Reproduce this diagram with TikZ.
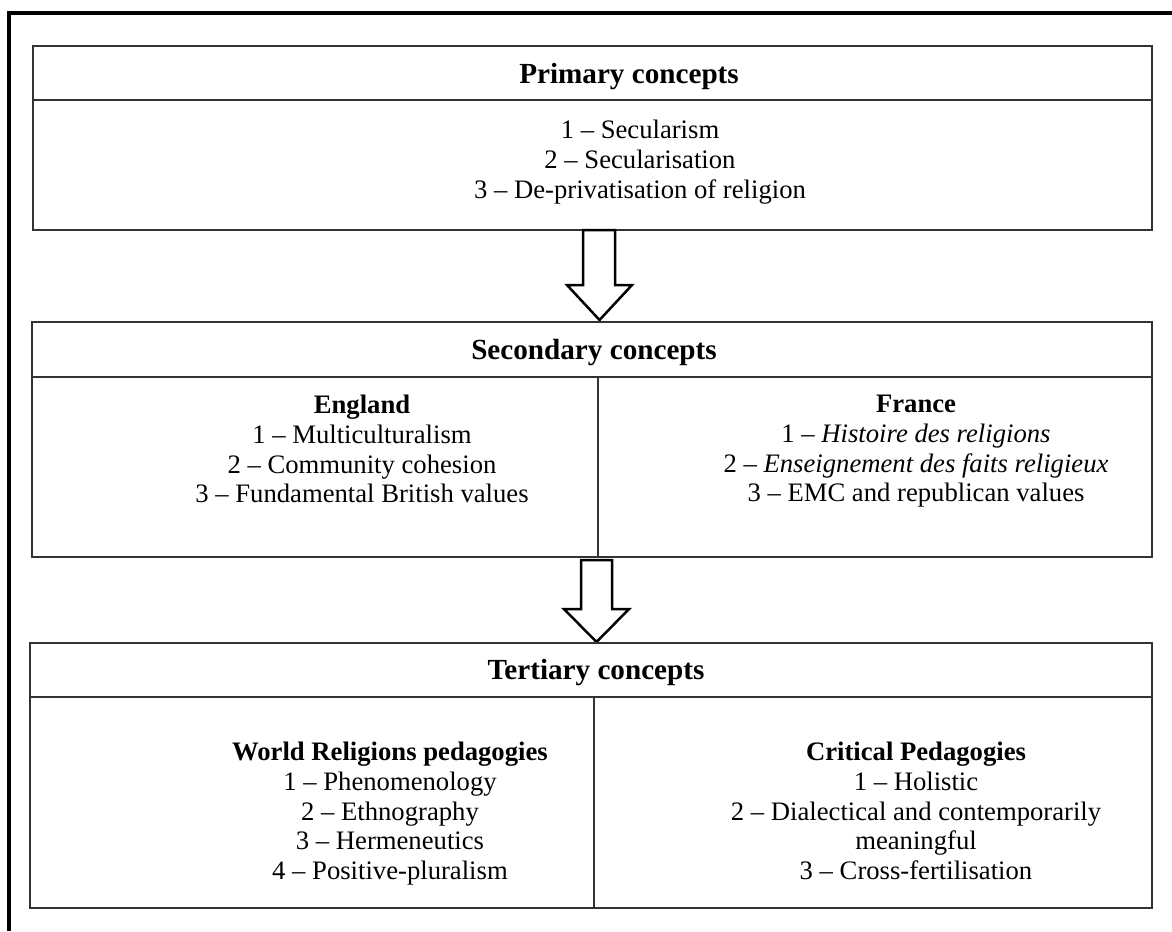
\documentclass[tikz,border=0pt]{standalone}
\usepackage{fontspec}
\setmainfont{Liberation Serif}
\tikzset{
  frame/.style={line width=1.45pt, black},
  box/.style={line width=0.75pt, black!80},
  blockarrow/.style={line width=1.2pt, black, fill=white, line join=miter},
  title/.style={font=\fontsize{14}{16}\selectfont\bfseries, inner sep=0pt},
  items/.style={align=center, inner sep=0pt, anchor=north},
}
\begin{document}
\begin{tikzpicture}[x=0.48pt, y=-0.48pt, font=\fontsize{12.8}{14.2}\selectfont]
\useasboundingbox (0,0) rectangle (1172,931);
\draw[frame] (9,931) -- (9,13) -- (1172,13);

% primary concepts
\coordinate (P1) at (33,46);
\coordinate (P2) at (1152,230);
\draw[box] (P1) rectangle (P2);
\draw[box] (33,100) -- (1152,100);
\node[title] (primary) at (629,77) {Primary concepts};
\node[items] (primarylist) at (640,120)
  {1 -- Secularism\\ 2 -- Secularisation\\ 3 -- De-privatisation of religion};

\draw[blockarrow] (583,230) -- (583,285) -- (567,285) -- (599.5,320)
  -- (632,285) -- (615,285) -- (615,230) -- cycle;

% secondary concepts
\coordinate (S1) at (32,322);
\coordinate (S2) at (1152,557);
\draw[box] (S1) rectangle (S2);
\draw[box] (32,377) -- (1152,377);
\draw[box] (598,377) -- (598,557);
\node[title] (secondary) at (594,353) {Secondary concepts};
\node[items] (england) at (362,395)
  {\textbf{England}\\ 1 -- Multiculturalism\\ 2 -- Community cohesion\\ 3 -- Fundamental British values};
\node[items] (france) at (916,395)
  {\textbf{France}\\ 1 -- \textit{Histoire des religions}\\ 2 -- \textit{Enseignement des faits religieux}\\ 3 -- EMC and republican values};

\draw[blockarrow] (581,560) -- (581,609) -- (564,609) -- (596.5,642)
  -- (629,609) -- (612,609) -- (612,560) -- cycle;

% tertiary concepts
\coordinate (T1) at (30,643);
\coordinate (T2) at (1152,908);
\draw[box] (T1) rectangle (T2);
\draw[box] (30,697) -- (1152,697);
\draw[box] (594,697) -- (594,908);
\node[title] (tertiary) at (596,673) {Tertiary concepts};
\node[items] (worldrel) at (390,742)
  {\textbf{World Religions pedagogies}\\ 1 -- Phenomenology\\ 2 -- Ethnography\\ 3 -- Hermeneutics\\ 4 -- Positive-pluralism};
\node[items] (critical) at (916,742)
  {\textbf{Critical Pedagogies}\\ 1 -- Holistic\\ 2 -- Dialectical and contemporarily\\ meaningful\\ 3 -- Cross-fertilisation};
\end{tikzpicture}
\end{document}
